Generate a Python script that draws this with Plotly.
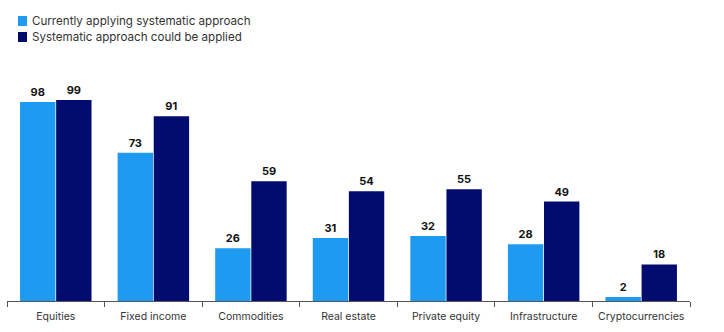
import plotly.graph_objects as go

categories = ["Equities", "Fixed income", "Commodities", "Real estate",
              "Private equity", "Infrastructure", "Cryptocurrencies"]
currently_applying = [98, 73, 26, 31, 32, 28, 2]
could_be_applied = [99, 91, 59, 54, 55, 49, 18]
series_names = ["Currently applying systematic approach",
                "Systematic approach could be applied"]

LIGHT = "#1E9BF0"
DARK = "#020B6E"
colors = [LIGHT, DARK]

W, H = 724, 332
ML, MR, MT, MB = 7, 34, 60, 31
PW, PH = W - ML - MR, H - MT - MB


def px_x(px):
    return (px - ML) / PW


def px_y(py):
    return (H - MB - py) / PH


fig = go.Figure()
for name, vals, col in zip(series_names, [currently_applying, could_be_applied], colors):
    fig.add_trace(go.Bar(
        name=name, x=categories, y=vals, marker_color=col,
        marker_line_width=0,
        text=vals, textposition="outside", cliponaxis=False,
        textfont=dict(family="Inter", size=11, color="#111111", weight="bold"),
        showlegend=False,
    ))

# legend drawn as colored squares with labels, top-left
shapes, annotations = [], []
for i, (name, col) in enumerate(zip(series_names, colors)):
    cy = 21 + 16 * i
    shapes.append(dict(type="rect", xref="paper", yref="paper",
                       x0=px_x(18), x1=px_x(27), y0=px_y(cy + 5), y1=px_y(cy - 5),
                       fillcolor=col, line_width=0))
    annotations.append(dict(text=name, xref="paper", yref="paper",
                            x=px_x(30), y=px_y(cy), xanchor="left", yanchor="middle",
                            showarrow=False,
                            font=dict(family="Inter", size=11.6, color="#333333")))

fig.update_layout(
    width=W, height=H,
    margin=dict(l=ML, r=MR, t=MT, b=MB, autoexpand=False),
    paper_bgcolor="white", plot_bgcolor="white",
    barmode="group", bargap=0.26, bargroupgap=0.02,
    font=dict(family="Inter", size=10.5, color="#333333"),
    showlegend=False,
    shapes=shapes, annotations=annotations,
    xaxis=dict(showline=True, linecolor="#555555", linewidth=1,
               ticks="outside", tickson="boundaries", ticklen=5,
               tickcolor="#555555", showgrid=False, tickangle=0,
               automargin=False, ticklabelstandoff=5,
               tickfont=dict(family="Inter", size=10.5, color="#333333")),
    yaxis=dict(range=[0, 118.7], visible=False, showgrid=False),
)

fig.write_html("out.html")
